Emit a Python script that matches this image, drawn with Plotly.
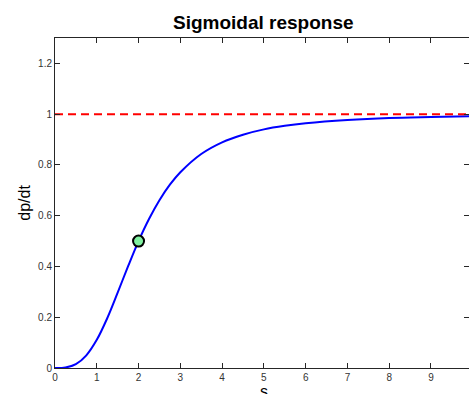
import plotly.graph_objects as go

# Curve values
s_vals = [0, 0.25, 0.5, 0.75, 1.0, 1.25, 1.5, 1.75, 2.0, 2.25, 2.5, 2.75, 3.0,
          3.5, 4.0, 4.5, 5.0, 5.5, 6.0, 7.0, 8.0, 9.0, 10.0]
rate_vals = [0.0, 0.002, 0.015, 0.05, 0.111, 0.196, 0.297, 0.401, 0.5, 0.587,
             0.661, 0.722, 0.771, 0.843, 0.889, 0.919, 0.940, 0.954, 0.964,
             0.977, 0.985, 0.989, 0.992]
ref_x = [0, 10]
ref_y = [1, 1]
half_x = [2]
half_y = [0.5]
x_ticks = [0, 1, 2, 3, 4, 5, 6, 7, 8, 9, 10]
y_ticks = [0, 0.2, 0.4, 0.6, 0.8, 1.0, 1.2]

FONT = "Liberation Sans, Arial, Helvetica, sans-serif"
AX = "#262626"

fig = go.Figure()
fig.add_trace(go.Scatter(x=s_vals, y=rate_vals, mode="lines", line_shape="spline",
                         line=dict(color="#0000ff", width=2), showlegend=False,
                         hoverinfo="skip"))
fig.add_trace(go.Scatter(x=ref_x, y=ref_y, mode="lines",
                         line=dict(color="#ff0000", width=2, dash="8px,5px"),
                         showlegend=False, hoverinfo="skip"))
fig.add_trace(go.Scatter(x=half_x, y=half_y, mode="markers",
                         marker=dict(size=11, color="#80f0a0",
                                     line=dict(color="black", width=2)),
                         showlegend=False, hoverinfo="skip"))
# invisible trace to activate right-hand tick axis
fig.add_trace(go.Scatter(x=[0], y=[0], mode="lines", yaxis="y2",
                         line=dict(width=0), showlegend=False, hoverinfo="skip"))

fig.update_layout(
    width=469, height=394, autosize=False,
    margin=dict(l=55, r=0, t=38, b=26, pad=0),
    paper_bgcolor="white", plot_bgcolor="white",
    font=dict(family=FONT, color=AX),
    xaxis=dict(range=[0, 9.91], tickvals=x_ticks, ticks="inside", ticklen=5,
               tickcolor=AX, showline=True, linecolor=AX, linewidth=1,
               mirror="ticks", showgrid=False, zeroline=False,
               tickfont=dict(size=10, color="#333333"), automargin=False),
    yaxis=dict(range=[0, 1.3], tickvals=y_ticks, ticks="inside", ticklen=5,
               tickcolor=AX, showline=True, linecolor=AX, linewidth=1,
               showgrid=False, zeroline=False,
               tickfont=dict(size=10, color="#333333"), automargin=False),
    yaxis2=dict(range=[0, 1.3], tickvals=y_ticks, ticks="inside", ticklen=5,
                tickcolor=AX, overlaying="y", side="right", showline=False,
                showgrid=False, zeroline=False, showticklabels=False,
                automargin=False),
    annotations=[
        dict(text="<b>Sigmoidal response</b>", x=5, xref="x", y=1.0, yref="paper",
             yanchor="bottom", yshift=3, showarrow=False,
             font=dict(size=19, color="black", family=FONT)),
        dict(text="dp/dt", x=-0.0755, xref="paper", y=0.5, yref="paper",
             textangle=-90, xanchor="center", yanchor="middle", showarrow=False,
             font=dict(size=16, color="black", family=FONT)),
        dict(text="s", x=5, xref="x", y=-0.04, yref="paper", yanchor="top",
             showarrow=False, font=dict(size=16, color="black", family=FONT)),
    ],
)

fig.write_html("out.html")
